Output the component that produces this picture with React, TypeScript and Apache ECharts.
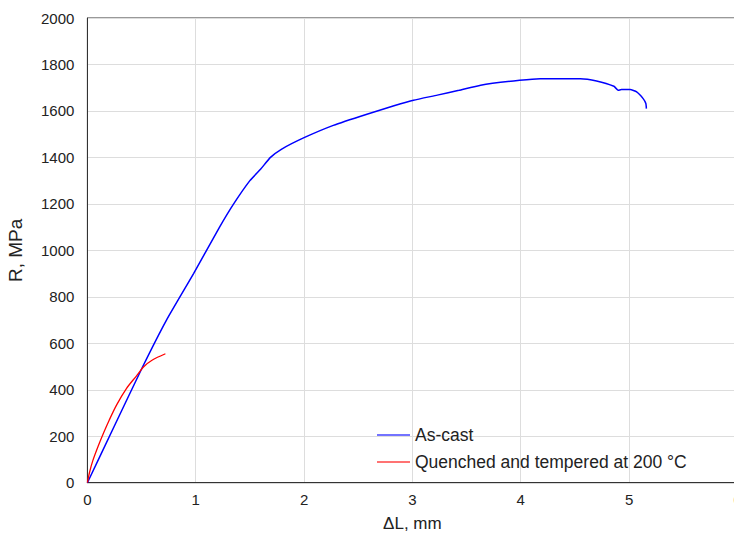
import React, { useEffect, useRef } from "react";
import * as echarts from "echarts";

const xTicks = [0, 1, 2, 3, 4, 5, 6];
const yTicks = [0, 200, 400, 600, 800, 1000, 1200, 1400, 1600, 1800, 2000];

const asCastDL = [0, 0.25, 0.51, 0.73, 0.98, 1.22, 1.35, 1.5, 1.6, 1.69, 1.79, 2.0, 2.27, 2.58, 2.83, 3.01, 3.23, 3.43, 3.63, 3.99, 4.18, 4.55, 4.7, 4.86, 4.9, 4.93, 5.01, 5.07, 5.13, 5.155, 5.16];
const asCastR = [0, 245, 499, 700, 900, 1100, 1200, 1300, 1350, 1400, 1435, 1485, 1538, 1586, 1622, 1646, 1668, 1689, 1711, 1732, 1739, 1739, 1729, 1706, 1689, 1692, 1692, 1682, 1653, 1632, 1610];

const qtDL = [0, 0.02, 0.05, 0.1, 0.15, 0.2, 0.27, 0.36, 0.45, 0.52, 0.6, 0.72];
const qtR = [0, 45, 95, 158, 215, 268, 335, 405, 458, 499, 528, 555];

const seriesNames = ["As-cast", "Quenched and tempered at 200 °C"];

const FONT = "Liberation Sans, Arial, sans-serif";
const CHART_W = 741;

export default function App() {
  const ref = useRef<HTMLDivElement>(null);
  useEffect(() => {
    if (!ref.current) return;
    const chart = echarts.init(ref.current, null, { renderer: "svg" });
    chart.setOption({
      animation: false,
      backgroundColor: "#ffffff",
      grid: {
        left: 87.4,
        right: CHART_W - 737.4,
        top: 18,
        bottom: 51.3,
        show: true,
        borderColor: "#333",
        borderWidth: 1,
        containLabel: false,
        outerBoundsMode: "none",
      },
      legend: {
        orient: "vertical",
        left: 372,
        top: 421,
        icon: "rect",
        itemWidth: 33,
        itemHeight: 2,
        itemGap: 9,
        textStyle: { fontFamily: FONT, fontSize: 17.5, color: "#222" },
        data: [
          { name: seriesNames[0], itemStyle: { color: "rgba(0,0,255,0.55)" } },
          { name: seriesNames[1], itemStyle: { color: "rgba(255,0,0,0.55)" } },
        ],
      },
      xAxis: {
        type: "value",
        min: xTicks[0],
        max: xTicks[xTicks.length - 1],
        interval: 1,
        name: "ΔL, mm",
        nameLocation: "middle",
        nameGap: 32,
        nameTextStyle: { fontFamily: FONT, fontSize: 17, color: "#222" },
        axisLine: { lineStyle: { color: "#333", width: 1 } },
        axisTick: { show: false },
        axisLabel: { fontFamily: FONT, fontSize: 15, color: "#222", margin: 9, formatter: (v: number) => String(v) },
        splitLine: { lineStyle: { color: "#dddddd", width: 1 } },
      },
      yAxis: {
        type: "value",
        min: yTicks[0],
        max: yTicks[yTicks.length - 1],
        interval: 200,
        name: "R, MPa",
        nameLocation: "middle",
        nameGap: 62,
        nameTextStyle: { fontFamily: FONT, fontSize: 19, color: "#222" },
        axisLine: { show: true, lineStyle: { color: "#333", width: 1 } },
        axisTick: { show: false },
        axisLabel: { fontFamily: FONT, fontSize: 15, color: "#222", margin: 13, formatter: (v: number) => String(v) },
        splitLine: { lineStyle: { color: "#dddddd", width: 1 } },
      },
      series: [
        {
          name: seriesNames[0],
          type: "line",
          data: asCastDL.map((x, i) => [x, asCastR[i]]),
          showSymbol: false,
          symbol: "none",
          smooth: 0.15,
          lineStyle: { color: "#0000ff", width: 1.5 },
          itemStyle: { color: "#0000ff" },
          z: 3,
        },
        {
          name: seriesNames[1],
          type: "line",
          data: qtDL.map((x, i) => [x, qtR[i]]),
          showSymbol: false,
          symbol: "none",
          smooth: 0.3,
          lineStyle: { color: "#ff0000", width: 1.3 },
          itemStyle: { color: "#ff0000" },
          z: 4,
        },
      ],
    });
    return () => chart.dispose();
  }, []);
  return (
    <div style={{ position: "fixed", left: 0, top: 0, width: 734, height: 534, overflow: "hidden" }}>
      <div ref={ref} style={{ width: CHART_W, height: 534 }} />
    </div>
  );
}
